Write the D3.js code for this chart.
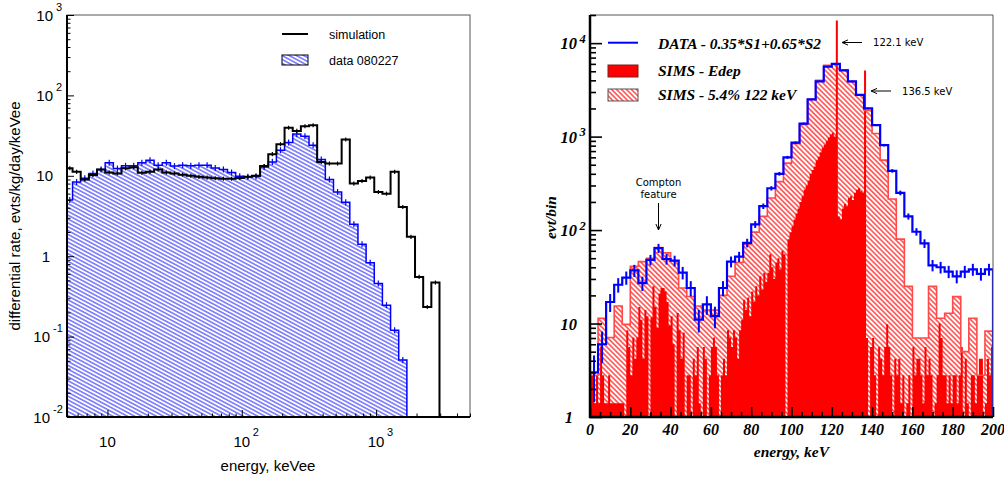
<!DOCTYPE html>
<html>
<head>
<meta charset="utf-8">
<script src="https://cdn.jsdelivr.net/npm/d3@7"></script>
<style>
body { margin: 0; background: #fff; }
svg { display: block; }
</style>
</head>
<body>
<svg width="1004" height="477"></svg>
<script>
// ---- left panel: log bins, first entry is the partial bin 5..5.5 keVee
const firstEdge = 5.5, logBinWidth = 0.0607;
const dataRate = [5.0, 8.4, 9.3, 10.7, 12.0, 14.5, 12.3, 13.3, 13.3, 14.5,
  15.6, 13.5, 14.5, 13.2, 13.5, 13.3, 13.5, 13.5, 12.5, 12.0,
  11.0, 9.9, 9.7, 9.8, 12.9, 14.9, 20.8, 26, 33, 31,
  24, 16, 9, 6.3, 4.7, 2.5, 1.41, 0.83, 0.457, 0.246,
  0.12, 0.051, 0.009];
const simRate = [12.4, 11.2, 9.0, 10.2, 12.0, 11.0, 10.7, 12.4, 12.8, 10.9,
  11.2, 12.0, 11.0, 10.7, 10.3, 10.0, 9.7, 9.5, 9.3, 9.2,
  9.2, 9.4, 9.7, 10.0, 13.2, 18.6, 24.7, 39.5, 36.2, 41.4,
  42.6, 14.9, 14.2, 14.2, 28.3, 8.0, 8.6, 9.5, 6.3, 6.0,
  11.2, 4.1, 1.74, 0.553, 0.234, 0.47];
const leftYTicks = [0.01, 0.1, 1, 10, 100, 1000];
const leftYLabels = [['10', '-2'], ['10', '-1'], ['1', ''], ['10', ''], ['10', '2'], ['10', '3']];
const leftXTicks = [10, 100, 1000];
const leftXLabels = [['10', ''], ['10', '2'], ['10', '3']];

// ---- right panel: 4 keV bins for data and smeared sims, 1 keV bins for Edep
const coarseBin = 4, fineBin = 1;
const dataCounts = [3.0, 6.0, 17, 26, 31, 37, 27, 48, 64, 49,
  47, 35, 24, 11, 16, 12, 24, 46, 52, 73,
  115, 180, 280, 400, 600, 860, 1380, 2500, 3900, 5600,
  6000, 5100, 3900, 2800, 2000, 1330, 810, 430, 250, 140,
  96, 72, 42, 40, 36, 32, 36, 38, 34, 38];
const smearCounts = [2.8, 11.4, 7.1, 15.4, 9.8, 41, 46, 50, 65, 57,
  47, 24, 19.5, 15.4, 13.9, 13.9, 20, 32, 45, 70,
  95, 140, 220, 330, 520, 840, 1350, 2500, 4000, 5800,
  6000, 5150, 3870, 2770, 1900, 1080, 560, 215, 80, 25,
  7, 7, 25, 11.4, 12.9, 19.4, 5, 11.4, 2.8, 8.3];
const edepCounts = [
  2.8, 2.8, 1.4, 2.8, 1.4, 5.6, 2.8, 1.4, 1.4, 2.8,
  1.4, 1.4, 1.4, 1.4, 1.4, 1.4, 1.4, 0, 8.5, 5.6,
  2.8, 7.1, 4.2, 7.1, 15, 11, 4.2, 14, 12, 0,
  11.6, 25, 15, 9, 21, 24, 24, 22, 17, 9.5,
  12, 6, 0, 13, 8.5, 4.2, 8, 0, 2.8, 2.8,
  0, 4.2, 2.8, 5.6, 1.4, 0, 5.6, 4.2, 0, 2.8,
  5.6, 7.1, 5.6, 2.8, 0, 2.8, 4.2, 2.8, 8.5, 7.1,
  5.6, 8.5, 7.1, 4.2, 8.5, 11, 18, 14, 19, 12,
  22, 17, 25, 20, 32, 23, 35, 28, 35, 55,
  40, 30, 45, 50, 38, 60, 55, 0, 80, 95,
  110, 130, 150, 170, 200, 230, 270, 300, 340, 400,
  440, 480, 560, 610, 680, 760, 820, 900, 980, 1050,
  1100, 1000, 17500, 140, 130, 170, 190, 180, 220, 230,
  210, 250, 270, 280, 260, 250, 5100, 7, 0, 5.6,
  7, 2.8, 0, 5.6, 4.2, 2.8, 5.6, 9.8, 5.6, 2.8,
  0, 4.2, 2.8, 4.2, 1.4, 2.8, 0, 1.4, 2.8, 0,
  5.6, 2.8, 4.2, 4.2, 2.8, 1.4, 5.6, 2.8, 4.2, 2.8,
  0, 1.4, 2.8, 10, 7, 2.8, 2.8, 1.4, 2.8, 1.4,
  2.8, 2.8, 1.4, 2.8, 5.6, 0, 4.2, 1.4, 0, 2.8,
  2.8, 1.4, 2.8, 4.2, 4.2, 0, 1.4, 4.2, 2.8, 5.6];
const rightYTicks = [1, 10, 100, 1000, 10000];
const rightYLabels = [['1', ''], ['10', ''], ['10', '2'], ['10', '3'], ['10', '4']];
const rightXTicks = [0, 20, 40, 60, 80, 100, 120, 140, 160, 180, 200];
const peakNotes = [{e: 122.1, text: '122.1 keV'}, {e: 136.5, text: '136.5 keV'}];

const svg = d3.select('svg');
const defs = svg.append('defs');
const L = {x0: 67, x1: 470, y0: 15, y1: 417};
const R = {x0: 590, x1: 993, y0: 15, y1: 417};

const xL = d3.scaleLog().domain([5, 5000]).range([L.x0, L.x1]);
const yL = d3.scaleLog().domain([0.01, 1000]).range([L.y1, L.y0]);
const xR = d3.scaleLinear().domain([0, 200]).range([R.x0, R.x1]);
const yR = d3.scaleLog().domain([1, 2e4]).range([R.y1, R.y0]);

function hatch(id, color, angle, gap, w) {
  defs.append('pattern').attr('id', id).attr('patternUnits', 'userSpaceOnUse')
    .attr('width', gap).attr('height', gap).attr('patternTransform', `rotate(${angle})`)
    .append('line').attr('x1', 0).attr('x2', gap).attr('y1', gap / 2).attr('y2', gap / 2)
    .attr('stroke', color).attr('stroke-width', w);
}
hatch('hBlue', '#0000ff', 28, 3.4, 0.85);
hatch('hRed', '#ff0000', 45, 3.5, 1.1);

function clip(id, P) {
  defs.append('clipPath').attr('id', id).append('rect')
    .attr('x', P.x0).attr('y', P.y0).attr('width', P.x1 - P.x0).attr('height', P.y1 - P.y0);
}
clip('clipL', L);
clip('clipR', R);

// histogram outline as step points, closed down to the floor at both ends
function steps(edges, vals, floor) {
  const pts = [[edges[0], floor]];
  vals.forEach((v, i) => {
    const vv = Math.max(v, floor);
    pts.push([edges[i], vv], [edges[i + 1], vv]);
  });
  pts.push([edges[vals.length], floor]);
  return pts;
}

// ================= LEFT PANEL =================
const leftEdges = [5].concat(d3.range(simRate.length).map(i => firstEdge * Math.pow(10, i * logBinWidth)));
const lineL = d3.line().x(d => xL(d[0])).y(d => yL(d[1]));
const gL = svg.append('g').attr('clip-path', 'url(#clipL)');

const dataPts = steps(leftEdges, dataRate, 0.01);
gL.append('path').attr('d', lineL(dataPts)).attr('fill', 'url(#hBlue)').attr('stroke', 'none');
gL.append('path').attr('d', lineL(dataPts)).attr('fill', 'none').attr('stroke', '#0000ff').attr('stroke-width', 1.5);
dataRate.forEach((v, i) => {
  const xc = xL(Math.sqrt(leftEdges[i] * leftEdges[i + 1]));
  gL.append('line').attr('x1', xc).attr('x2', xc).attr('y1', yL(v * 1.09)).attr('y2', yL(v / 1.09))
    .attr('stroke', '#0000ff').attr('stroke-width', 1.2);
});

const simPts = steps(leftEdges, simRate, 0.01);
gL.append('path').attr('d', lineL(simPts)).attr('fill', 'none').attr('stroke', '#000').attr('stroke-width', 2);
simRate.forEach((v, i) => {
  const xc = xL(Math.sqrt(leftEdges[i] * leftEdges[i + 1]));
  gL.append('line').attr('x1', xc).attr('x2', xc).attr('y1', yL(v * 1.06)).attr('y2', yL(v / 1.06))
    .attr('stroke', '#000').attr('stroke-width', 1.2);
});

// frame + axes
svg.append('rect').attr('x', L.x0).attr('y', L.y0).attr('width', L.x1 - L.x0).attr('height', L.y1 - L.y0)
  .attr('fill', 'none').attr('stroke', '#555').attr('stroke-width', 1);
const minorLY = [];
[0.01, 0.1, 1, 10, 100].forEach(d => { for (let m = 2; m <= 9; m++) minorLY.push(d * m); });
const minorLX = [];
[1, 10, 100, 1000].forEach(d => { for (let m = 1; m <= 9; m++) { const v = d * m; if (v > 5 && v < 5000 && m > 1) minorLX.push(v); } });
minorLX.push(5000);

function tickAxis(axis, tr) {
  const g = svg.append('g').attr('transform', tr).call(axis);
  g.select('.domain').remove();
  g.selectAll('line').attr('stroke', '#000');
  return g;
}
tickAxis(d3.axisRight(yL).tickValues(leftYTicks).tickSize(7).tickFormat(''), `translate(${L.x0},0)`);
tickAxis(d3.axisRight(yL).tickValues(minorLY).tickSize(3.5).tickFormat(''), `translate(${L.x0},0)`);
tickAxis(d3.axisTop(xL).tickValues(leftXTicks).tickSize(7).tickFormat(''), `translate(0,${L.y1})`);
tickAxis(d3.axisTop(xL).tickValues(minorLX).tickSize(3.5).tickFormat(''), `translate(0,${L.y1})`);
svg.append('line').attr('x1', L.x0).attr('x2', L.x0).attr('y1', L.y0).attr('y2', L.y1).attr('stroke', '#000').attr('stroke-width', 2);
svg.append('line').attr('x1', L.x0).attr('x2', L.x1).attr('y1', L.y1).attr('y2', L.y1).attr('stroke', '#000').attr('stroke-width', 2);

const sans = 'Liberation Sans, Arial, sans-serif';
leftYTicks.forEach((t, i) => {
  const [base, sup] = leftYLabels[i];
  const y = yL(t);
  const neg = sup.startsWith('-');
  const bx = sup ? (neg ? 50 : 53) : (base === '1' ? 50 : 53);
  svg.append('text').attr('x', bx).attr('y', y + 5.5).attr('text-anchor', 'end')
    .attr('font-family', sans).attr('font-size', 15).text(base);
  if (sup) svg.append('text').attr('x', bx + 3).attr('y', y - 4.5)
    .attr('font-family', sans).attr('font-size', 11).text(sup);
});
leftXTicks.forEach((t, i) => {
  const [base, sup] = leftXLabels[i];
  const x = xL(t);
  svg.append('text').attr('x', x).attr('y', 447).attr('text-anchor', 'middle')
    .attr('font-family', sans).attr('font-size', 15).text(base);
  if (sup) svg.append('text').attr('x', x + 11).attr('y', 436)
    .attr('font-family', sans).attr('font-size', 11).text(sup);
});
svg.append('text').attr('x', 268).attr('y', 471).attr('text-anchor', 'middle')
  .attr('font-family', sans).attr('font-size', 15).text('energy, keVee');
svg.append('text').attr('transform', 'translate(20,216) rotate(-90)').attr('text-anchor', 'middle')
  .attr('font-family', sans).attr('font-size', 15).text('differential rate, evts/kg/day/keVee');

// left legend
svg.append('line').attr('x1', 282).attr('x2', 308).attr('y1', 34).attr('y2', 34).attr('stroke', '#000').attr('stroke-width', 2);
svg.append('rect').attr('x', 282).attr('y', 55).attr('width', 26).attr('height', 10)
  .attr('fill', 'url(#hBlue)').attr('stroke', '#000').attr('stroke-width', 1);
svg.append('text').attr('x', 329).attr('y', 38.5).attr('font-family', sans).attr('font-size', 12.5).text('simulation');
svg.append('text').attr('x', 329).attr('y', 65).attr('font-family', sans).attr('font-size', 12.5).text('data 080227');

// ================= RIGHT PANEL =================
const coarseEdges = d3.range(dataCounts.length + 1).map(i => i * coarseBin);
const fineEdges = d3.range(edepCounts.length + 1).map(i => i * fineBin);
const lineR = d3.line().x(d => xR(d[0])).y(d => yR(d[1]));
const gR = svg.append('g').attr('clip-path', 'url(#clipR)');

const smearPts = steps(coarseEdges, smearCounts, 1);
gR.append('path').attr('d', lineR(smearPts)).attr('fill', 'url(#hRed)').attr('stroke', 'none');
gR.append('path').attr('d', lineR(steps(fineEdges, edepCounts, 1))).attr('fill', '#ff0000').attr('stroke', 'none');
gR.append('path').attr('d', lineR(smearPts)).attr('fill', 'none').attr('stroke', '#ff4a4a').attr('stroke-width', 1.6);

gR.append('path').attr('d', lineR(steps(coarseEdges, dataCounts, 1))).attr('fill', 'none')
  .attr('stroke', '#0000ff').attr('stroke-width', 2.2);
dataCounts.forEach((v, i) => {
  const xc = xR(coarseEdges[i] + coarseBin / 2), e = 0.9 * Math.sqrt(v);
  gR.append('line').attr('x1', xc).attr('x2', xc).attr('y1', yR(v + e)).attr('y2', yR(Math.max(v - e, 1)))
    .attr('stroke', '#0000ff').attr('stroke-width', 2);
});

svg.append('line').attr('x1', R.x0).attr('x2', R.x1).attr('y1', R.y0).attr('y2', R.y0).attr('stroke', '#555');
svg.append('line').attr('x1', R.x1).attr('x2', R.x1).attr('y1', R.y0).attr('y2', R.y1).attr('stroke', '#555');
const minorRY = [];
[1, 10, 100, 1000, 10000].forEach(d => { for (let m = 2; m <= 9; m++) if (d * m <= 2e4) minorRY.push(d * m); });
const minorRX = d3.range(0, 201, 5).filter(v => v % 20 !== 0);
tickAxis(d3.axisRight(yR).tickValues(rightYTicks).tickSize(12).tickFormat(''), `translate(${R.x0},0)`).selectAll('line').attr('stroke-width', 1.6);
tickAxis(d3.axisRight(yR).tickValues(minorRY).tickSize(6).tickFormat(''), `translate(${R.x0},0)`).selectAll('line').attr('stroke-width', 1.6);
tickAxis(d3.axisTop(xR).tickValues(rightXTicks).tickSize(10).tickFormat(''), `translate(0,${R.y1})`).selectAll('line').attr('stroke-width', 1.6);
tickAxis(d3.axisTop(xR).tickValues(minorRX).tickSize(5).tickFormat(''), `translate(0,${R.y1})`).selectAll('line').attr('stroke-width', 1.6);
svg.append('line').attr('x1', R.x0).attr('x2', R.x0).attr('y1', R.y0).attr('y2', R.y1 + 1).attr('stroke', '#000').attr('stroke-width', 2.5);
svg.append('line').attr('x1', R.x0 - 1).attr('x2', R.x1).attr('y1', R.y1).attr('y2', R.y1).attr('stroke', '#000').attr('stroke-width', 2.5);

const serif = 'Liberation Serif, Times New Roman, serif';
function serifText(x, y, size, txt, anchor) {
  return svg.append('text').attr('x', x).attr('y', y).attr('text-anchor', anchor || 'start')
    .attr('font-family', serif).attr('font-weight', 'bold').attr('font-style', 'italic')
    .attr('font-size', size).text(txt);
}
rightYTicks.forEach((t, i) => {
  const [base, sup] = rightYLabels[i];
  const y = yR(t);
  serifText(base === '1' ? 573 : 577, y + 6, 16.5, base, 'end');
  if (sup) serifText(579.5, y - 0.5, 12.5, sup);
});
rightXTicks.forEach(t => serifText(xR(t), 435, 16, String(t), 'middle'));
serifText(829, 457, 15.5, 'energy, keV', 'end');
serifText(556, 196, 15.5, 'evt/bin', 'end').attr('transform', 'rotate(-90,556,196)')
  .attr('x', 556).attr('y', 196);

// right legend
svg.append('line').attr('x1', 608).attr('x2', 638).attr('y1', 42.7).attr('y2', 42.7).attr('stroke', '#0000ff').attr('stroke-width', 2);
svg.append('rect').attr('x', 608).attr('y', 65).attr('width', 30).attr('height', 12)
  .attr('fill', '#ff0000').attr('stroke', '#7a2020').attr('stroke-width', 1);
svg.append('rect').attr('x', 608).attr('y', 89).attr('width', 30).attr('height', 12)
  .attr('fill', 'url(#hRed)').attr('stroke', '#555').attr('stroke-width', 1);
serifText(658, 48.5, 15.5, 'DATA - 0.35*S1+0.65*S2');
serifText(658, 75.5, 15.5, 'SIMS - Edep');
serifText(658, 100, 15.5, 'SIMS - 5.4% 122 keV');

// annotations
const annFont = 'DejaVu Sans, sans-serif';
function arrow(x1, y1, x2, y2) {
  svg.append('line').attr('x1', x1).attr('y1', y1).attr('x2', x2).attr('y2', y2)
    .attr('stroke', '#000').attr('stroke-width', 1);
  const a = Math.atan2(y2 - y1, x2 - x1), h = 6, w = 2.6;
  const bx = x2 - h * Math.cos(a), by = y2 - h * Math.sin(a);
  svg.append('path').attr('d', `M${bx + w * Math.sin(a)},${by - w * Math.cos(a)}L${x2},${y2}L${bx - w * Math.sin(a)},${by + w * Math.cos(a)}`)
    .attr('fill', 'none').attr('stroke', '#000').attr('stroke-width', 1);
}
const noteY = [42.5, 91];
peakNotes.forEach((p, i) => {
  const xs = xR(p.e) + 6;
  arrow(xs + 20, noteY[i], xs, noteY[i]);
  svg.append('text').attr('x', xs + 31).attr('y', noteY[i] + 3.5).attr('font-family', annFont)
    .attr('font-size', 10).text(p.text);
});
svg.append('text').attr('x', xR(34)).attr('y', 186).attr('text-anchor', 'middle')
  .attr('font-family', annFont).attr('font-size', 10).text('Compton');
svg.append('text').attr('x', xR(34)).attr('y', 197.5).attr('text-anchor', 'middle')
  .attr('font-family', annFont).attr('font-size', 10).text('feature');
arrow(xR(34), 203, xR(34), 230);
</script>
</body>
</html>
